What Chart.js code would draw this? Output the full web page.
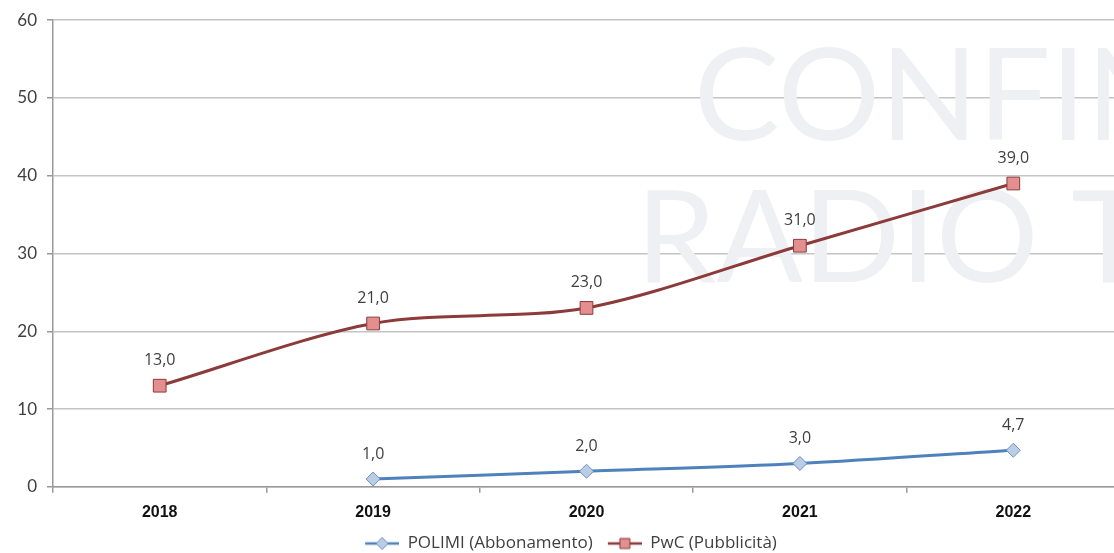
<!DOCTYPE html>
<html>
<head>
<meta charset="utf-8">
<script src="https://cdn.jsdelivr.net/npm/chart.js@4"></script>
<style>
  body { margin: 0; background: #fff; overflow: hidden; }
</style>
</head>
<body>
<canvas id="ricavi" width="1130" height="562"></canvas>
<script>
var anni = ["2018", "2019", "2020", "2021", "2022"];
var polimi = [null, 1.0, 2.0, 3.0, 4.7];
var pwc = [13.0, 21.0, 23.0, 31.0, 39.0];
var yTicks = [0, 10, 20, 30, 40, 50, 60];

var testo = "#404040";
var fontLight = "Lato, 'Open Sans', sans-serif";

// small line + marker swatch for the legend (left margin keeps the items apart)
function legendIcon(line, fill, border, style) {
  var c = document.createElement("canvas");
  c.width = 46; c.height = 14;
  var g = c.getContext("2d");
  g.strokeStyle = line; g.lineWidth = 2.5;
  g.beginPath(); g.moveTo(12, 7); g.lineTo(46, 7); g.stroke();
  g.fillStyle = fill; g.strokeStyle = border; g.lineWidth = 1;
  g.beginPath();
  if (style == "rect") {
    g.rect(24, 2, 10, 10);
  } else {
    g.moveTo(29, 1); g.lineTo(35, 7); g.lineTo(29, 13); g.lineTo(23, 7); g.closePath();
  }
  g.fill(); g.stroke();
  return c;
}

var watermark = {
  id: "watermark",
  beforeDatasetsDraw: function(chart) {
    var ctx = chart.ctx;
    ctx.save();
    ctx.fillStyle = "#eef0f3";
    ctx.font = "128px " + fontLight;
    ctx.textBaseline = "alphabetic";
    ctx.fillText("CONFIN", 694, 140);
    ctx.fillText("RADIO TI", 636, 282);
    ctx.restore();
  }
};

var valueLabels = {
  id: "valueLabels",
  afterDatasetsDraw: function(chart) {
    var ctx = chart.ctx;
    ctx.save();
    ctx.fillStyle = testo;
    ctx.font = "16px 'Open Sans', sans-serif";
    ctx.textAlign = "center";
    ctx.textBaseline = "middle";
    chart.data.datasets.forEach(function(ds, i) {
      chart.getDatasetMeta(i).data.forEach(function(pt, j) {
        var v = ds.data[j];
        if (v === null) return;
        ctx.fillText(v.toFixed(1).replace(".", ","), pt.x, pt.y - 25);
      });
    });
    ctx.restore();
  }
};

var chart = new Chart(document.getElementById("ricavi").getContext("2d"), {
  type: "line",
  data: {
    labels: anni,
    datasets: [{
      label: "POLIMI (Abbonamento)",
      data: polimi,
      borderColor: "#4f81bd",
      borderWidth: 3,
      backgroundColor: "#b9cde5",
      pointStyle: "rectRot",
      pointRadius: 7,
      pointBorderColor: "#6a8fc0",
      pointBorderWidth: 1,
      tension: 0.3
    }, {
      label: "PwC (Pubblicità)",
      data: pwc,
      borderColor: "#8c3a3a",
      borderWidth: 3,
      backgroundColor: "#e38f8f",
      pointStyle: "rect",
      pointRadius: 9,
      pointBorderColor: "#8c3a3a",
      pointBorderWidth: 1,
      tension: 0.3
    }]
  },
  options: {
    responsive: false,
    animation: false,
    layout: { padding: { top: 12, right: 0, left: 0, bottom: 0 } },
    plugins: {
      tooltip: { enabled: false },
      legend: {
        position: "bottom",
        labels: {
          color: testo,
          font: { family: "'Open Sans', sans-serif", size: 17 },
          usePointStyle: true,
          pointStyleWidth: 46,
          boxHeight: 14,
          padding: 3,
          generateLabels: function(chart) {
            return [
              { text: "POLIMI (Abbonamento)", datasetIndex: 0, fontColor: testo,
                pointStyle: legendIcon("#4f81bd", "#b9cde5", "#6a8fc0", "rectRot") },
              { text: "PwC (Pubblicità)", datasetIndex: 1, fontColor: testo,
                pointStyle: legendIcon("#8c3a3a", "#e38f8f", "#8c3a3a", "rect") }
            ];
          }
        }
      }
    },
    scales: {
      x: {
        offset: true,
        grid: { offset: true, drawOnChartArea: false, drawTicks: true, tickLength: 6, color: "#999", lineWidth: 1.5 },
        border: { color: "#999", width: 1.5 },
        ticks: { color: "#111", font: { family: "'Liberation Sans', Arial, sans-serif", size: 16, weight: "bold" }, padding: 10 }
      },
      y: {
        min: 0,
        max: 60,
        afterBuildTicks: function(axis) { axis.ticks = yTicks.map(function(v) { return { value: v }; }); },
        afterFit: function(axis) { axis.width = 53; },
        grid: { color: "#c4c4c4", lineWidth: 1.5, tickLength: 6, tickColor: "#999" },
        border: { color: "#999", width: 1.5 },
        ticks: { color: testo, font: { family: fontLight, size: 17 }, padding: 10 }
      }
    }
  },
  plugins: [watermark, valueLabels]
});
</script>
</body>
</html>
